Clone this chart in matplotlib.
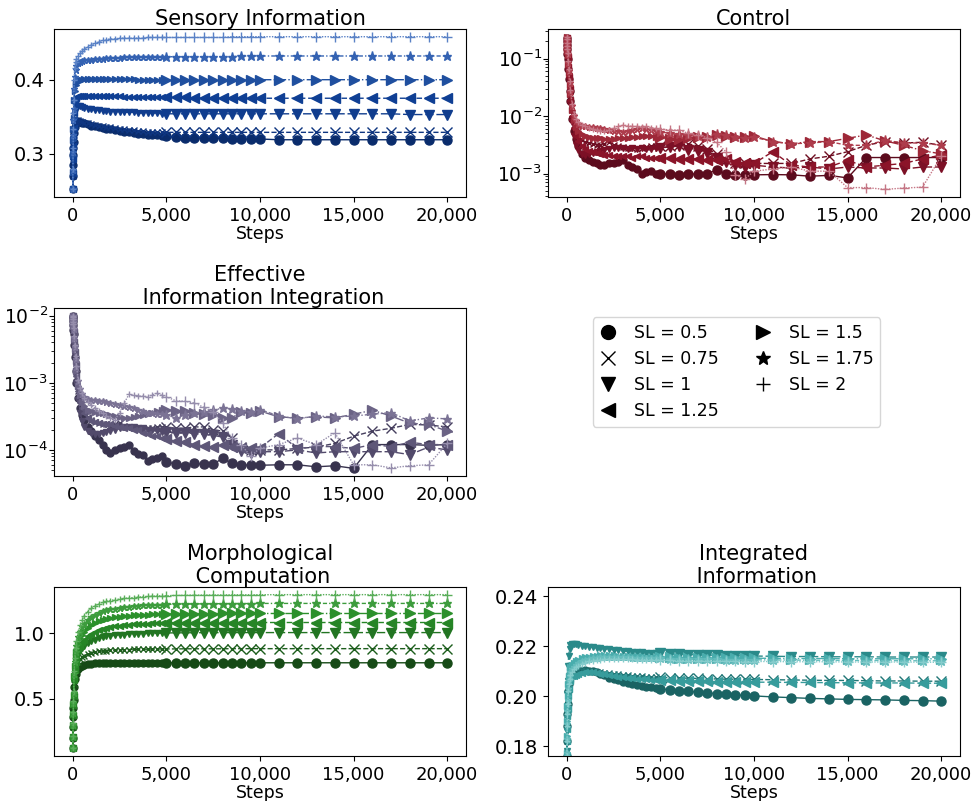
import matplotlib
matplotlib.use('Agg')
import matplotlib.pyplot as plt
from matplotlib.lines import Line2D
from matplotlib.ticker import FuncFormatter

# Training steps at which the measures were logged
steps = [0, 10, 20, 30, 40, 50, 75, 100, 150, 200, 300, 400, 500, 600, 800, 1000, 1200, 1400, 1600, 1800, 2000,
         2250, 2500, 2750, 3000, 3250, 3500, 3750, 4000, 4250, 4500, 4750,
         5000, 5500, 6000, 6500, 7000, 7500, 8000, 8500, 9000, 9500,
         10000, 11000, 12000, 13000, 14000, 15000, 16000, 17000, 18000, 19000, 20000]

sl_labels = ['SL = 0.5', 'SL = 0.75', 'SL = 1', 'SL = 1.25', 'SL = 1.5', 'SL = 1.75', 'SL = 2']

# Sensory Information
sens_050 = [0.252, 0.270, 0.285, 0.298, 0.308, 0.316, 0.328, 0.336, 0.341, 0.343, 0.344, 0.343, 0.342, 0.341, 0.340, 0.338, 0.337, 0.336, 0.335, 0.334, 0.333,
            0.332, 0.331, 0.330, 0.329, 0.328, 0.327, 0.327, 0.326, 0.325, 0.325, 0.324,
            0.324, 0.323, 0.322, 0.322, 0.321, 0.321, 0.321, 0.320, 0.320, 0.320,
            0.320, 0.319, 0.319, 0.319, 0.319, 0.319, 0.319, 0.319, 0.319, 0.319, 0.319]
sens_075 = [0.252, 0.270, 0.286, 0.300, 0.310, 0.318, 0.330, 0.337, 0.342, 0.344, 0.345, 0.344, 0.343, 0.342, 0.341, 0.340, 0.339, 0.338, 0.337, 0.336, 0.336,
            0.335, 0.334, 0.333, 0.332, 0.332, 0.331, 0.331, 0.330, 0.330, 0.329, 0.329,
            0.329, 0.329, 0.329, 0.329, 0.329, 0.329, 0.329, 0.329, 0.329, 0.329,
            0.329, 0.329, 0.329, 0.329, 0.329, 0.329, 0.329, 0.329, 0.329, 0.329, 0.329]
sens_100 = [0.252, 0.272, 0.290, 0.305, 0.318, 0.328, 0.345, 0.356, 0.362, 0.364, 0.365, 0.364, 0.363, 0.362, 0.361, 0.360, 0.359, 0.359, 0.358, 0.358, 0.357,
            0.357, 0.357, 0.356, 0.356, 0.356, 0.355, 0.355, 0.355, 0.355, 0.355, 0.354,
            0.354, 0.354, 0.354, 0.354, 0.354, 0.354, 0.354, 0.354, 0.354, 0.354,
            0.354, 0.354, 0.354, 0.354, 0.354, 0.354, 0.354, 0.354, 0.353, 0.353, 0.353]
sens_125 = [0.252, 0.274, 0.293, 0.310, 0.324, 0.335, 0.355, 0.368, 0.375, 0.377, 0.378, 0.378, 0.378, 0.378, 0.378, 0.378, 0.378, 0.378, 0.378, 0.378, 0.378,
            0.378, 0.378, 0.377, 0.377, 0.377, 0.377, 0.377, 0.376, 0.376, 0.376, 0.376,
            0.376, 0.376, 0.376, 0.375, 0.375, 0.375, 0.375, 0.375, 0.375, 0.375,
            0.375, 0.375, 0.375, 0.375, 0.375, 0.375, 0.375, 0.375, 0.375, 0.375, 0.375]
sens_150 = [0.252, 0.276, 0.298, 0.318, 0.334, 0.348, 0.372, 0.385, 0.393, 0.396, 0.399, 0.400, 0.400, 0.401, 0.401, 0.401, 0.401, 0.401, 0.401, 0.401, 0.401,
            0.401, 0.401, 0.401, 0.401, 0.401, 0.400, 0.400, 0.400, 0.400, 0.400, 0.400,
            0.400, 0.400, 0.400, 0.400, 0.400, 0.400, 0.400, 0.400, 0.400, 0.400,
            0.400, 0.400, 0.400, 0.400, 0.400, 0.400, 0.400, 0.400, 0.400, 0.400, 0.400]
sens_175 = [0.252, 0.278, 0.303, 0.326, 0.345, 0.360, 0.388, 0.403, 0.413, 0.418, 0.422, 0.424, 0.425, 0.426, 0.427, 0.427, 0.428, 0.428, 0.428, 0.429, 0.429,
            0.429, 0.429, 0.430, 0.430, 0.430, 0.430, 0.430, 0.431, 0.431, 0.431, 0.431,
            0.431, 0.431, 0.431, 0.431, 0.431, 0.431, 0.431, 0.431, 0.432, 0.432,
            0.432, 0.432, 0.432, 0.432, 0.432, 0.432, 0.432, 0.432, 0.432, 0.432, 0.432]
sens_200 = [0.252, 0.280, 0.308, 0.333, 0.355, 0.372, 0.400, 0.416, 0.424, 0.428, 0.432, 0.436, 0.439, 0.441, 0.444, 0.447, 0.449, 0.451, 0.453, 0.454, 0.455,
            0.455, 0.456, 0.456, 0.456, 0.456, 0.456, 0.456, 0.457, 0.457, 0.457, 0.457,
            0.457, 0.457, 0.457, 0.457, 0.457, 0.457, 0.457, 0.458, 0.458, 0.458,
            0.458, 0.458, 0.458, 0.458, 0.458, 0.458, 0.458, 0.458, 0.458, 0.458, 0.458]

# Control
ctrl_050 = [0.23, 0.20, 0.17, 0.145, 0.12, 0.10, 0.065, 0.045, 0.027, 0.018, 0.009, 0.0055, 0.004, 0.003, 0.0022, 0.0019, 0.0017, 0.0016, 0.0015, 0.0014, 0.0014,
            0.0015, 0.0015, 0.0016, 0.0017, 0.0014, 0.0013, 0.0012, 0.0010, 0.00105, 0.0011, 0.0010,
            0.0010, 0.00097, 0.00095, 0.0010, 0.00097, 0.0010, 0.00115, 0.00098, 0.00096, 0.00095,
            0.00095, 0.00096, 0.00095, 0.0009, 0.00093, 0.00084, 0.0019, 0.0019, 0.0019, 0.0019, 0.0019]
ctrl_075 = [0.23, 0.20, 0.175, 0.15, 0.125, 0.105, 0.07, 0.05, 0.03, 0.02, 0.011, 0.007, 0.0055, 0.0045, 0.0038, 0.0035, 0.0034, 0.0033, 0.0032, 0.0032, 0.0033,
            0.0036, 0.0032, 0.0030, 0.0029, 0.0028, 0.0028, 0.0027, 0.0028, 0.0029, 0.0030, 0.0030,
            0.0030, 0.0030, 0.0031, 0.0033, 0.0030, 0.0027, 0.0022, 0.0017, 0.0015, 0.0015,
            0.0015, 0.0015, 0.0015, 0.0018, 0.0020, 0.0024, 0.0031, 0.0036, 0.0034, 0.0035, 0.0031]
ctrl_100 = [0.23, 0.20, 0.17, 0.14, 0.118, 0.098, 0.062, 0.042, 0.025, 0.016, 0.008, 0.0045, 0.0032, 0.0026, 0.0022, 0.0021, 0.0022, 0.0023, 0.0024, 0.0025, 0.0026,
            0.0027, 0.0028, 0.0028, 0.0028, 0.0027, 0.0028, 0.0027, 0.0028, 0.0027, 0.0027, 0.0028,
            0.0028, 0.0029, 0.0030, 0.0026, 0.0025, 0.0023, 0.0019, 0.0016, 0.0014, 0.0013,
            0.0014, 0.0013, 0.00125, 0.0013, 0.0012, 0.0013, 0.00125, 0.00125, 0.0012, 0.0013, 0.0013]
ctrl_125 = [0.23, 0.205, 0.175, 0.15, 0.128, 0.108, 0.072, 0.048, 0.029, 0.019, 0.010, 0.0062, 0.0045, 0.0037, 0.0030, 0.0027, 0.0025, 0.0024, 0.0023, 0.0022, 0.0021,
            0.0021, 0.0020, 0.0020, 0.0020, 0.0020, 0.0019, 0.0020, 0.0020, 0.0019, 0.0019, 0.0019,
            0.0019, 0.0019, 0.0018, 0.0018, 0.0018, 0.0017, 0.0017, 0.0018, 0.0016, 0.0015,
            0.0015, 0.0024, 0.0014, 0.0013, 0.0013, 0.0017, 0.0013, 0.0014, 0.0015, 0.0018, 0.0021]
ctrl_150 = [0.235, 0.21, 0.18, 0.155, 0.135, 0.115, 0.08, 0.055, 0.035, 0.024, 0.013, 0.0085, 0.0065, 0.0055, 0.0048, 0.0045, 0.0043, 0.0042, 0.0042, 0.0041, 0.0040,
            0.0040, 0.0040, 0.0041, 0.0042, 0.0042, 0.0043, 0.0044, 0.0045, 0.0045, 0.0045, 0.0044,
            0.0044, 0.0040, 0.0040, 0.0042, 0.0044, 0.0044, 0.0046, 0.0045, 0.0044, 0.0044,
            0.0045, 0.0036, 0.0033, 0.0036, 0.0036, 0.0041, 0.0047, 0.0037, 0.0031, 0.0025, 0.0022]
ctrl_175 = [0.235, 0.21, 0.185, 0.16, 0.14, 0.12, 0.085, 0.06, 0.038, 0.026, 0.015, 0.010, 0.0082, 0.0074, 0.0068, 0.0066, 0.0065, 0.0064, 0.0063, 0.0062, 0.0060,
            0.0058, 0.0056, 0.0054, 0.0053, 0.0055, 0.0057, 0.0060, 0.0062, 0.0060, 0.0058, 0.0055,
            0.0053, 0.0050, 0.0048, 0.0046, 0.0045, 0.0044, 0.0049, 0.0046, 0.0043, 0.0042,
            0.0043, 0.0036, 0.0033, 0.0034, 0.0036, 0.0031, 0.0031, 0.0038, 0.0034, 0.0034, 0.0031]
ctrl_200 = [0.24, 0.215, 0.19, 0.165, 0.145, 0.125, 0.09, 0.065, 0.041, 0.028, 0.016, 0.011, 0.0088, 0.0078, 0.0070, 0.0066, 0.0063, 0.0060, 0.0058, 0.0056, 0.0055,
            0.0058, 0.0062, 0.0066, 0.0069, 0.0068, 0.0066, 0.0066, 0.0065, 0.0066, 0.0063, 0.0061,
            0.0060, 0.0057, 0.0057, 0.0050, 0.0047, 0.0042, 0.0035, 0.0024, 0.00095, 0.00080,
            0.0011, 0.0012, 0.0013, 0.0011, 0.0011, 0.00057, 0.00057, 0.00053, 0.00056, 0.00058, 0.0020]

# Effective Information Integration
eff_050 = [1.0e-2, 9.2e-3, 8.2e-3, 7.2e-3, 6.2e-3, 5.3e-3, 3.6e-3, 2.4e-3, 1.5e-3, 1.0e-3, 6.0e-4, 4.2e-4, 3.3e-4, 2.8e-4, 2.2e-4, 1.9e-4, 1.6e-4, 1.4e-4, 1.2e-4, 1.0e-4, 9.0e-5,
           1.0e-4, 1.05e-4, 1.1e-4, 1.2e-4, 9.5e-5, 8.6e-5, 8.4e-5, 6.8e-5, 7.2e-5, 7.6e-5, 8.0e-5,
           6.7e-5, 6.1e-5, 5.8e-5, 6.3e-5, 6.1e-5, 6.1e-5, 7.5e-5, 6.3e-5, 6.0e-5, 5.9e-5,
           5.9e-5, 6.0e-5, 6.0e-5, 5.6e-5, 5.8e-5, 5.3e-5, 1.2e-4, 1.2e-4, 1.2e-4, 1.17e-4, 1.2e-4]
eff_075 = [1.0e-2, 9.3e-3, 8.4e-3, 7.5e-3, 6.6e-3, 5.7e-3, 4.0e-3, 2.8e-3, 1.8e-3, 1.2e-3, 7.5e-4, 5.5e-4, 4.4e-4, 3.7e-4, 3.1e-4, 2.8e-4, 2.6e-4, 2.5e-4, 2.4e-4, 2.4e-4, 2.3e-4,
           2.4e-4, 2.5e-4, 2.3e-4, 2.2e-4, 2.1e-4, 2.1e-4, 2.0e-4, 2.1e-4, 2.1e-4, 2.2e-4, 2.2e-4,
           2.2e-4, 2.1e-4, 2.1e-4, 2.2e-4, 2.2e-4, 2.0e-4, 1.9e-4, 1.5e-4, 1.1e-4, 9.8e-5,
           1.0e-4, 1.0e-4, 1.05e-4, 1.1e-4, 1.25e-4, 1.6e-4, 1.9e-4, 2.1e-4, 2.4e-4, 2.35e-4, 2.2e-4]
eff_100 = [1.0e-2, 9.2e-3, 8.3e-3, 7.3e-3, 6.3e-3, 5.4e-3, 3.7e-3, 2.5e-3, 1.5e-3, 1.0e-3, 5.5e-4, 3.6e-4, 2.7e-4, 2.2e-4, 1.9e-4, 1.8e-4, 1.75e-4, 1.75e-4, 1.8e-4, 1.85e-4, 1.9e-4,
           2.0e-4, 2.15e-4, 2.2e-4, 2.2e-4, 2.2e-4, 2.15e-4, 2.1e-4, 2.0e-4, 1.95e-4, 1.9e-4, 1.85e-4,
           1.85e-4, 1.8e-4, 1.8e-4, 1.75e-4, 1.7e-4, 1.65e-4, 1.55e-4, 1.2e-4, 9.5e-5, 9.0e-5,
           9.4e-5, 9.4e-5, 1.0e-4, 9.0e-5, 9.4e-5, 9.4e-5, 9.4e-5, 9.4e-5, 8.5e-5, 1.1e-4, 1.0e-4]
eff_125 = [1.0e-2, 9.3e-3, 8.4e-3, 7.5e-3, 6.6e-3, 5.8e-3, 4.1e-3, 2.9e-3, 1.85e-3, 1.25e-3, 7.5e-4, 5.3e-4, 4.2e-4, 3.6e-4, 3.0e-4, 2.7e-4, 2.6e-4, 2.5e-4, 2.4e-4, 2.4e-4, 2.4e-4,
           2.3e-4, 2.2e-4, 2.15e-4, 2.1e-4, 2.0e-4, 2.0e-4, 1.8e-4, 1.7e-4, 1.6e-4, 1.6e-4, 1.5e-4,
           1.45e-4, 1.35e-4, 1.3e-4, 1.2e-4, 1.15e-4, 1.1e-4, 1.2e-4, 1.1e-4, 1.05e-4, 1.05e-4,
           1.07e-4, 1.75e-4, 1.05e-4, 1.12e-4, 1.12e-4, 1.05e-4, 1.2e-4, 1.12e-4, 1.3e-4, 1.2e-4, 1.2e-4]
eff_150 = [1.0e-2, 9.4e-3, 8.6e-3, 7.8e-3, 7.0e-3, 6.2e-3, 4.5e-3, 3.2e-3, 2.1e-3, 1.5e-3, 9.0e-4, 6.5e-4, 5.2e-4, 4.5e-4, 4.0e-4, 3.8e-4, 3.7e-4, 3.6e-4, 3.5e-4, 3.4e-4, 3.3e-4,
           3.2e-4, 3.1e-4, 3.0e-4, 3.0e-4, 3.1e-4, 3.2e-4, 3.3e-4, 3.4e-4, 3.6e-4, 3.8e-4, 4.0e-4,
           4.0e-4, 3.8e-4, 3.8e-4, 3.6e-4, 3.4e-4, 3.3e-4, 3.0e-4, 3.0e-4, 3.7e-4, 3.5e-4,
           3.8e-4, 3.1e-4, 3.0e-4, 3.1e-4, 3.0e-4, 3.4e-4, 3.9e-4, 3.2e-4, 2.5e-4, 2.4e-4, 1.9e-4]
eff_175 = [1.0e-2, 9.4e-3, 8.7e-3, 8.0e-3, 7.2e-3, 6.4e-3, 4.7e-3, 3.4e-3, 2.3e-3, 1.7e-3, 1.05e-3, 8.0e-4, 6.8e-4, 6.2e-4, 5.8e-4, 5.6e-4, 5.5e-4, 5.4e-4, 5.3e-4, 5.2e-4, 5.0e-4,
           4.8e-4, 4.6e-4, 4.5e-4, 4.4e-4, 4.2e-4, 4.0e-4, 3.8e-4, 3.6e-4, 3.5e-4, 3.4e-4, 3.4e-4,
           3.3e-4, 3.0e-4, 3.3e-4, 3.5e-4, 3.7e-4, 3.9e-4, 4.2e-4, 4.1e-4, 3.8e-4, 3.7e-4,
           4.0e-4, 3.2e-4, 2.9e-4, 3.2e-4, 3.1e-4, 3.2e-4, 3.4e-4, 3.6e-4, 2.7e-4, 3.0e-4, 2.9e-4]
eff_200 = [1.0e-2, 9.5e-3, 8.8e-3, 8.1e-3, 7.4e-3, 6.6e-3, 4.9e-3, 3.6e-3, 2.5e-3, 1.8e-3, 1.1e-3, 8.5e-4, 7.0e-4, 6.0e-4, 5.2e-4, 4.6e-4, 4.2e-4, 3.8e-4, 3.5e-4, 3.2e-4, 3.0e-4,
           2.8e-4, 3.6e-4, 5.0e-4, 6.7e-4, 6.5e-4, 6.4e-4, 6.3e-4, 6.2e-4, 6.6e-4, 7.0e-4, 6.5e-4,
           6.2e-4, 5.4e-4, 5.3e-4, 5.0e-4, 4.3e-4, 3.7e-4, 2.5e-4, 1.5e-4, 1.2e-4, 8.0e-5,
           1.06e-4, 1.2e-4, 1.5e-4, 1.2e-4, 1.8e-4, 6.0e-5, 6.0e-5, 5.4e-5, 5.8e-5, 6.0e-5, 1.25e-4]

# Morphological Computation
morph_050 = [0.12, 0.20, 0.28, 0.36, 0.43, 0.49, 0.59, 0.65, 0.69, 0.71, 0.73, 0.745, 0.752, 0.758, 0.765, 0.768, 0.770, 0.771, 0.772, 0.772, 0.773,
             0.773, 0.773, 0.773, 0.774, 0.774, 0.774, 0.774, 0.774, 0.774, 0.774, 0.774,
             0.774, 0.774, 0.774, 0.774, 0.774, 0.774, 0.774, 0.774, 0.774, 0.774,
             0.774, 0.774, 0.774, 0.774, 0.774, 0.774, 0.774, 0.774, 0.774, 0.774, 0.774]
morph_075 = [0.12, 0.20, 0.285, 0.365, 0.44, 0.50, 0.61, 0.68, 0.73, 0.75, 0.78, 0.80, 0.815, 0.825, 0.840, 0.850, 0.856, 0.861, 0.864, 0.867, 0.869,
             0.871, 0.873, 0.874, 0.875, 0.876, 0.877, 0.878, 0.878, 0.879, 0.879, 0.880,
             0.880, 0.880, 0.881, 0.881, 0.881, 0.881, 0.881, 0.882, 0.882, 0.882,
             0.882, 0.882, 0.882, 0.882, 0.882, 0.882, 0.882, 0.882, 0.882, 0.882, 0.882]
morph_100 = [0.12, 0.205, 0.29, 0.37, 0.445, 0.51, 0.63, 0.70, 0.76, 0.79, 0.84, 0.87, 0.89, 0.905, 0.925, 0.94, 0.952, 0.962, 0.969, 0.975, 0.980,
             0.984, 0.987, 0.990, 0.992, 0.994, 0.996, 0.997, 0.998, 0.999, 1.000, 1.001,
             1.002, 1.003, 1.003, 1.004, 1.004, 1.004, 1.005, 1.005, 1.005, 1.005,
             1.005, 1.005, 1.005, 1.005, 1.005, 1.005, 1.005, 1.005, 1.005, 1.005, 1.005]
morph_125 = [0.12, 0.205, 0.29, 0.375, 0.45, 0.52, 0.645, 0.72, 0.78, 0.82, 0.87, 0.905, 0.93, 0.95, 0.975, 0.995, 1.010, 1.022, 1.032, 1.040, 1.046,
             1.052, 1.057, 1.061, 1.065, 1.068, 1.070, 1.072, 1.074, 1.076, 1.077, 1.078,
             1.079, 1.080, 1.081, 1.081, 1.082, 1.082, 1.082, 1.082, 1.082, 1.082,
             1.082, 1.082, 1.082, 1.082, 1.082, 1.082, 1.082, 1.082, 1.082, 1.082, 1.082]
morph_150 = [0.12, 0.21, 0.295, 0.38, 0.46, 0.53, 0.67, 0.75, 0.82, 0.86, 0.92, 0.96, 0.99, 1.01, 1.04, 1.065, 1.080, 1.093, 1.103, 1.111, 1.117,
             1.122, 1.127, 1.131, 1.134, 1.137, 1.139, 1.141, 1.143, 1.144, 1.145, 1.146,
             1.147, 1.148, 1.149, 1.150, 1.150, 1.150, 1.151, 1.151, 1.151, 1.151,
             1.151, 1.151, 1.151, 1.151, 1.151, 1.151, 1.151, 1.151, 1.151, 1.151, 1.151]
morph_175 = [0.12, 0.21, 0.30, 0.39, 0.47, 0.545, 0.69, 0.78, 0.86, 0.90, 0.97, 1.01, 1.045, 1.07, 1.10, 1.125, 1.142, 1.156, 1.167, 1.176, 1.183,
             1.189, 1.195, 1.199, 1.203, 1.207, 1.210, 1.213, 1.215, 1.217, 1.218, 1.219,
             1.220, 1.222, 1.223, 1.224, 1.225, 1.226, 1.226, 1.227, 1.227, 1.227,
             1.228, 1.228, 1.228, 1.228, 1.228, 1.228, 1.228, 1.228, 1.228, 1.228, 1.228]
morph_200 = [0.12, 0.215, 0.31, 0.40, 0.48, 0.56, 0.71, 0.81, 0.89, 0.94, 1.01, 1.06, 1.10, 1.13, 1.165, 1.19, 1.210, 1.225, 1.236, 1.244, 1.250,
             1.256, 1.261, 1.266, 1.270, 1.273, 1.276, 1.279, 1.281, 1.283, 1.285, 1.286,
             1.287, 1.289, 1.290, 1.291, 1.292, 1.292, 1.293, 1.293, 1.294, 1.294,
             1.294, 1.295, 1.295, 1.295, 1.295, 1.295, 1.295, 1.295, 1.295, 1.295, 1.295]

# Integrated Information
int_050 = [0.170, 0.176, 0.182, 0.188, 0.193, 0.197, 0.202, 0.205, 0.208, 0.2090, 0.2095, 0.2098, 0.2100, 0.2100, 0.2102, 0.2103, 0.2102, 0.2100, 0.2095, 0.2090, 0.2085,
           0.2072, 0.2068, 0.2063, 0.2058, 0.2054, 0.2050, 0.2046, 0.2042, 0.2038, 0.2035, 0.2032,
           0.2030, 0.2025, 0.2022, 0.2019, 0.2016, 0.2013, 0.2010, 0.2007, 0.2005, 0.2003,
           0.2001, 0.1997, 0.1994, 0.1991, 0.1989, 0.1987, 0.1986, 0.1985, 0.1983, 0.1982, 0.1980]
int_075 = [0.170, 0.176, 0.182, 0.188, 0.193, 0.197, 0.202, 0.206, 0.208, 0.2095, 0.2100, 0.2102, 0.2104, 0.2105, 0.2105, 0.2104, 0.2102, 0.2100, 0.2098, 0.2096, 0.2094,
           0.2092, 0.2090, 0.2088, 0.2086, 0.2084, 0.2082, 0.2080, 0.2079, 0.2078, 0.2077, 0.2076,
           0.2075, 0.2074, 0.2073, 0.2072, 0.2071, 0.2070, 0.2069, 0.2068, 0.2068, 0.2067,
           0.2067, 0.2066, 0.2065, 0.2064, 0.2063, 0.2063, 0.2062, 0.2061, 0.2061, 0.2060, 0.2060]
int_100 = [0.170, 0.178, 0.186, 0.194, 0.201, 0.206, 0.212, 0.216, 0.219, 0.2205, 0.2210, 0.2210, 0.2208, 0.2206, 0.2203, 0.2200, 0.2198, 0.2196, 0.2194, 0.2192, 0.2190,
           0.2188, 0.2186, 0.2184, 0.2182, 0.2180, 0.2179, 0.2178, 0.2176, 0.2175, 0.2174, 0.2173,
           0.2172, 0.2170, 0.2168, 0.2167, 0.2166, 0.2165, 0.2164, 0.2163, 0.2162, 0.2161,
           0.2161, 0.2160, 0.2159, 0.2159, 0.2158, 0.2158, 0.2158, 0.2157, 0.2157, 0.2157, 0.2157]
int_125 = [0.170, 0.176, 0.182, 0.187, 0.192, 0.195, 0.200, 0.203, 0.206, 0.2070, 0.2080, 0.2082, 0.2085, 0.2088, 0.2092, 0.2095, 0.2096, 0.2095, 0.2093, 0.2090, 0.2087,
           0.2084, 0.2081, 0.2078, 0.2076, 0.2074, 0.2072, 0.2070, 0.2068, 0.2067, 0.2066, 0.2065,
           0.2064, 0.2063, 0.2062, 0.2061, 0.2060, 0.2059, 0.2058, 0.2058, 0.2057, 0.2057,
           0.2056, 0.2056, 0.2055, 0.2055, 0.2054, 0.2054, 0.2053, 0.2053, 0.2053, 0.2052, 0.2052]
int_150 = [0.170, 0.177, 0.184, 0.190, 0.196, 0.200, 0.205, 0.208, 0.210, 0.2115, 0.2125, 0.2133, 0.2140, 0.2146, 0.2152, 0.2156, 0.2159, 0.2161, 0.2163, 0.2164, 0.2164,
           0.2164, 0.2164, 0.2163, 0.2163, 0.2162, 0.2161, 0.2160, 0.2160, 0.2159, 0.2158, 0.2158,
           0.2157, 0.2156, 0.2155, 0.2155, 0.2154, 0.2154, 0.2153, 0.2153, 0.2153, 0.2152,
           0.2152, 0.2152, 0.2151, 0.2151, 0.2151, 0.2150, 0.2150, 0.2150, 0.2150, 0.2150, 0.2150]
int_175 = [0.170, 0.177, 0.183, 0.189, 0.194, 0.198, 0.203, 0.206, 0.208, 0.2095, 0.2108, 0.2118, 0.2126, 0.2132, 0.2141, 0.2147, 0.2151, 0.2153, 0.2155, 0.2156, 0.2157,
           0.2157, 0.2157, 0.2157, 0.2156, 0.2156, 0.2155, 0.2155, 0.2154, 0.2154, 0.2153, 0.2153,
           0.2152, 0.2151, 0.2150, 0.2150, 0.2149, 0.2148, 0.2148, 0.2147, 0.2147, 0.2146,
           0.2146, 0.2145, 0.2145, 0.2144, 0.2144, 0.2143, 0.2143, 0.2143, 0.2142, 0.2142, 0.2142]
int_200 = [0.170, 0.176, 0.182, 0.188, 0.193, 0.197, 0.202, 0.205, 0.207, 0.2085, 0.2098, 0.2108, 0.2115, 0.2121, 0.2129, 0.2135, 0.2140, 0.2143, 0.2145, 0.2147, 0.2148,
           0.2149, 0.2149, 0.2149, 0.2149, 0.2148, 0.2148, 0.2147, 0.2147, 0.2146, 0.2146, 0.2145,
           0.2145, 0.2144, 0.2143, 0.2143, 0.2142, 0.2141, 0.2141, 0.2140, 0.2140, 0.2139,
           0.2139, 0.2139, 0.2138, 0.2138, 0.2138, 0.2137, 0.2137, 0.2137, 0.2137, 0.2136, 0.2136]

# Markers and line styles per step length
markers = ['o', 'x', 'v', '<', '>', '*', '+']
line_styles = ['-', '--', (0, (6, 2)), (0, (4, 2)), '-.', (0, (3, 1.5, 1, 1.5)), (0, (1, 1))]

# Colour shades per panel (dark -> light)
blues = ['#0a2c6c', '#0e3580', '#103d8e', '#0f3f94', '#1f4f9f', '#3462b2', '#5a82c6']
reds = ['#5c0b1d', '#6e0e22', '#7c1026', '#8b1429', '#9e2838', '#ae3c4c', '#c57685']
purples = ['#38334e', '#463f5e', '#524a6b', '#5e5778', '#6b6385', '#7b7395', '#968eac']
greens = ['#164a16', '#1d5e1d', '#227522', '#268526', '#2c902c', '#3d9c3d', '#5aae5a']
teals = ['#1a6363', '#217676', '#2a8a8a', '#379c9c', '#49adad', '#64bcbc', '#86cccc']

split = steps.index(5000)


def draw(ax, series, colors):
    for i, vals in enumerate(series):
        ax.plot(steps, vals, color=colors[i], linestyle=line_styles[i], linewidth=1)
        ax.plot(steps[:split], vals[:split], marker=markers[i], color=colors[i],
                linestyle='none', markersize=5)
        ax.plot(steps[split:], vals[split:], marker=markers[i], color=colors[i],
                linestyle='none', markersize=6.5)
    ax.set_xlabel('Steps', fontsize=12.5, labelpad=0)
    ax.xaxis.set_major_formatter(FuncFormatter(lambda x, p: f'{int(x):,}'))
    ax.set_xticks([0, 5000, 10000, 15000, 20000])
    ax.tick_params(axis='x', labelsize=13)
    ax.tick_params(axis='y', labelsize=14)


fig = plt.figure(figsize=(9.73, 8.01), dpi=100)
w = 0.4234
h = 0.2097
ax1 = fig.add_axes([0.0555, 0.754, w, h])
ax2 = fig.add_axes([0.5632, 0.754, w, h])
ax3 = fig.add_axes([0.0555, 0.4057, w, h])
ax5 = fig.add_axes([0.0555, 0.0562, w, 0.211])
ax6 = fig.add_axes([0.5632, 0.0562, w, 0.211])

draw(ax1, [sens_050, sens_075, sens_100, sens_125, sens_150, sens_175, sens_200], blues)
ax1.set_title('Sensory Information', fontsize=15, pad=3)
ax1.set_yticks([0.3, 0.4])

draw(ax2, [ctrl_050, ctrl_075, ctrl_100, ctrl_125, ctrl_150, ctrl_175, ctrl_200], reds)
ax2.set_yscale('log')
ax2.set_title('Control', fontsize=15, pad=3)

draw(ax3, [eff_050, eff_075, eff_100, eff_125, eff_150, eff_175, eff_200], purples)
ax3.set_yscale('log')
ax3.set_title('Effective\n Information Integration', fontsize=15, pad=3)

for ax in (ax2, ax3):
    ax.tick_params(axis='y', which='major', labelsize=13.5, pad=1)

draw(ax5, [morph_050, morph_075, morph_100, morph_125, morph_150, morph_175, morph_200], greens)
ax5.set_title('Morphological\n Computation', fontsize=15, pad=3)
ax5.set_yticks([0.5, 1.0])

draw(ax6, [int_050, int_075, int_100, int_125, int_150, int_175, int_200], teals)
ax6.set_title('Integrated\n Information', fontsize=15, pad=3)
ax6.set_ylim(0.176, 0.2438)
ax6.set_yticks([0.18, 0.20, 0.22, 0.24])

# Shared legend in the empty slot
handles = [Line2D([], [], marker=m, color='black', linestyle='none', markersize=10) for m in markers]
fig.legend(handles, sl_labels, loc='center', bbox_to_anchor=(0.757, 0.5355), ncol=2,
           fontsize=12.5, handlelength=1.0, handletextpad=0.95, columnspacing=2.1,
           labelspacing=0.45)

fig.savefig('out.png', dpi=100)
